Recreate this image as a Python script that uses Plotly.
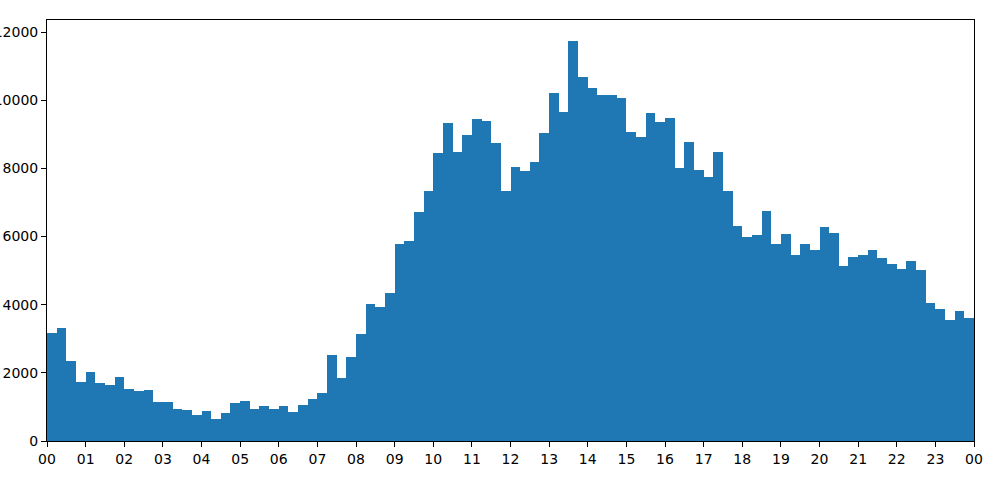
import plotly.graph_objects as go

# 15-minute bin counts, 00:00 -> 24:00 (96 bins)
counts = [
    3170, 3316, 2348, 1732, 2025, 1702, 1644, 1878,   # 00-01
    1526, 1467, 1497, 1145, 1145, 939, 910, 763,      # 02-03
    880, 646, 822, 1115, 1174, 939, 1027, 939,        # 04-05
    1027, 851, 1057, 1233, 1409, 2524, 1849, 2465,    # 06-07
    3140, 4021, 3933, 4344, 5782, 5870, 6721, 7337,   # 08-09
    8453, 9333, 8482, 8981, 9450, 9392, 8746, 7337,   # 10-11
    8042, 7924, 8188, 9039, 10213, 9656, 11740, 10683,  # 12-13
    10360, 10155, 10155, 10067, 9069, 8922, 9626, 9362,  # 14-15
    9480, 8012, 8775, 7954, 7748, 8482, 7337, 6310,   # 16-17
    5987, 6046, 6750, 5782, 6075, 5459, 5782, 5606,   # 18-19
    6281, 6105, 5136, 5400, 5459, 5606, 5371, 5195,   # 20-21
    5048, 5283, 5019, 4050, 3874, 3551, 3815, 3610,   # 22-23
]
bin_hours = [i * 0.25 + 0.125 for i in range(96)]
tick_vals = list(range(25))
tick_text = [f"{h % 24:02d}" for h in tick_vals]
y_ticks = [0, 2000, 4000, 6000, 8000, 10000, 12000]

fig = go.Figure(go.Bar(
    x=bin_hours, y=counts, width=0.25,
    marker=dict(color="#1f77b4", line=dict(width=0)),
))

axis_common = dict(
    showgrid=False, zeroline=False, showline=True, linecolor="black",
    linewidth=1, mirror=True, ticks="outside", ticklen=5, tickwidth=1,
    tickcolor="black", automargin=False,
    tickfont=dict(family="DejaVu Sans", size=14, color="black"),
)

fig.update_layout(
    template="none",
    width=1000, height=480,
    margin=dict(l=47, r=26, t=20, b=39),
    paper_bgcolor="white", plot_bgcolor="white",
    bargap=0, showlegend=False,
    xaxis=dict(range=[0, 24], tickvals=tick_vals, ticktext=tick_text, **axis_common),
    yaxis=dict(range=[0, 12355], tickvals=y_ticks, tickformat="d", **axis_common),
)

fig.write_html(
    "out.html",
    config={"displayModeBar": False},
    post_script="document.body.style.margin='0';",
)
